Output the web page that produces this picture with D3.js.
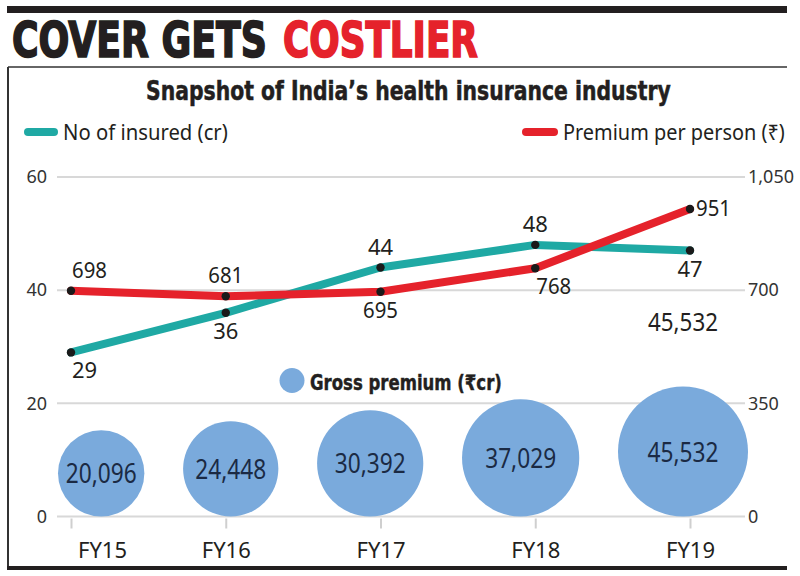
<!DOCTYPE html>
<html><head><meta charset="utf-8">
<script src="https://cdn.jsdelivr.net/npm/d3@7"></script>
<style>body{margin:0;background:#fff}svg{display:block}</style>
</head><body><svg id="c" width="800" height="576"></svg>
<script>
// ---- data ----
const categories = ["FY15", "FY16", "FY17", "FY18", "FY19"];
const insured = [29, 36, 44, 48, 47];                 // No of insured (cr)
const premiumPerPerson = [698, 681, 695, 768, 951];   // Premium per person (₹)
const grossPremium = [20096, 24448, 30392, 37029, 45532]; // Gross premium (₹cr)
const leftTicks = [0, 20, 40, 60];
const rightTicks = [0, 350, 700, 1050];
const insuredLabelPos = ["below-start", "below", "above", "above", "below"];
const premiumLabelPos = ["above-start", "above", "below", "below-start", "right"];
const titleDark = "COVER GETS";
const titleRed = "COSTLIER";
const subtitle = "Snapshot of India’s health insurance industry";
const legendInsured = "No of insured (cr)";
const legendPremium = "Premium per person (₹)";
const legendGross = "Gross premium (₹cr)";
const strayLabel = "45,532";

// ---- styles ----
const TEAL = "#1fa9a4", RED = "#e5222b", BLUE = "#7aaadc", INK = "#231f20";
const NUMFONT = "'Noto Sans', 'Open Sans', sans-serif";
const HEAVY = "'DejaVu Sans Condensed', 'DejaVu Sans', sans-serif";

const svg = d3.select("#c");

// horizontally squeeze a text to a given width around its anchor x
function squeeze(sel, width) {
  sel.each(function () {
    const n = this, w = n.getComputedTextLength();
    const k = Math.min(1, width / w);
    const ax = +n.getAttribute("x");
    n.setAttribute("transform", `translate(${ax},0) scale(${k},1) translate(${-ax},0)`);
  });
  return sel;
}

// ---- scales ----
const y0 = 516.5, yTop = 177;
const yL = d3.scaleLinear().domain([0, 60]).range([y0, yTop]);
const yR = d3.scaleLinear().domain([0, 1050]).range([y0, yTop]);
const x = d3.scalePoint().domain(categories).range([71, 690]);
const r = d3.scaleSqrt().domain([0, d3.max(grossPremium)]).range([0, 65]);

// ---- header ----
svg.append("rect").attr("x", 7).attr("y", 6).attr("width", 780).attr("height", 7).attr("fill", INK);
squeeze(svg.append("text").attr("x", 12).attr("y", 57).text(titleDark)
  .attr("font-family", HEAVY).attr("font-weight", 700).attr("font-size", 49)
  .attr("fill", INK).attr("stroke", INK).attr("stroke-width", 1.6), 255);
squeeze(svg.append("text").attr("x", 283).attr("y", 57).text(titleRed)
  .attr("font-family", HEAVY).attr("font-weight", 700).attr("font-size", 49)
  .attr("fill", RED).attr("stroke", RED).attr("stroke-width", 1.6), 195);

// frame
svg.append("line").attr("x1", 8).attr("x2", 787).attr("y1", 67).attr("y2", 67).attr("stroke", "#333").attr("stroke-width", 1.5);
svg.append("line").attr("x1", 8).attr("x2", 8).attr("y1", 67).attr("y2", 568).attr("stroke", "#333").attr("stroke-width", 2);
svg.append("line").attr("x1", 7).attr("x2", 787).attr("y1", 568).attr("y2", 568).attr("stroke", INK).attr("stroke-width", 4);

squeeze(svg.append("text").attr("x", 146).attr("y", 100).text(subtitle)
  .attr("font-family", HEAVY).attr("font-weight", 700).attr("font-size", 26)
  .attr("fill", INK).attr("stroke", INK).attr("stroke-width", 0.5), 525);

// ---- legend ----
const lg = svg.append("g");
lg.append("line").attr("x1", 28).attr("x2", 54).attr("y1", 132).attr("y2", 132)
  .attr("stroke", TEAL).attr("stroke-width", 8).attr("stroke-linecap", "round");
lg.append("text").attr("x", 63).attr("y", 140).text(legendInsured)
  .attr("font-family", NUMFONT).attr("font-size", 21).attr("fill", INK)
  .call(s => squeeze(s, 165));
lg.append("line").attr("x1", 526).attr("x2", 554).attr("y1", 132).attr("y2", 132)
  .attr("stroke", RED).attr("stroke-width", 8).attr("stroke-linecap", "round");
lg.append("text").attr("x", 563).attr("y", 140).text(legendPremium)
  .attr("font-family", NUMFONT).attr("font-size", 21).attr("fill", INK)
  .call(s => squeeze(s, 222));

// ---- gridlines ----
svg.append("g").selectAll("line").data(leftTicks).join("line")
  .attr("x1", 57).attr("x2", 745)
  .attr("y1", d => yL(d)).attr("y2", d => yL(d))
  .attr("stroke", "#d8d8d8").attr("stroke-width", 2);

// ---- axes ----
const axL = svg.append("g").attr("transform", "translate(47,0)")
  .call(d3.axisLeft(yL).tickValues(leftTicks).tickSize(0).tickPadding(0));
const axR = svg.append("g").attr("transform", "translate(748,0)")
  .call(d3.axisRight(yR).tickValues(rightTicks).tickFormat(d3.format(",")).tickSize(0).tickPadding(0));
[axL, axR].forEach(a => {
  a.select(".domain").remove();
  a.selectAll("text").attr("font-family", NUMFONT).attr("font-size", 18).attr("fill", "#333");
});
const axB = svg.append("g").attr("transform", `translate(0,${y0 + 2})`)
  .call(d3.axisBottom(x).tickSize(10).tickPadding(14));
axB.select(".domain").remove();
axB.selectAll("line").attr("stroke", "#cfcfcf").attr("stroke-width", 2);
axB.selectAll("text").attr("font-family", NUMFONT).attr("font-size", 22).attr("fill", INK)
  .attr("dx", (d, i) => i === 0 ? 31 : 0);

// ---- bubbles (packed left to right with equal gaps, resting on the baseline) ----
const radii = grossPremium.map(v => r(v));
const leftEdge = 58, rightEdge = 748;
const gap = (rightEdge - leftEdge - 2 * d3.sum(radii)) / (radii.length - 1);
const cxs = [];
radii.forEach((rr, i) => {
  cxs.push(i === 0 ? leftEdge + rr : cxs[i - 1] + radii[i - 1] + gap + rr);
});
const bubbles = svg.append("g").selectAll("g").data(grossPremium).join("g");
bubbles.append("circle")
  .attr("cx", (d, i) => cxs[i]).attr("cy", (d, i) => y0 - radii[i]).attr("r", (d, i) => radii[i])
  .attr("fill", BLUE);
bubbles.append("text")
  .attr("x", (d, i) => cxs[i]).attr("y", (d, i) => y0 - radii[i]).attr("dy", "0.36em")
  .attr("text-anchor", "middle").text(d => d3.format(",")(d))
  .attr("font-family", NUMFONT).attr("font-size", 28).attr("fill", "#1b2a44")
  .call(s => squeeze(s, 71));

// stray label above last bubble
const last = grossPremium.length - 1;
svg.append("text").attr("x", cxs[last]).attr("y", y0 - 2 * radii[last] - 55)
  .attr("text-anchor", "middle").text(strayLabel)
  .attr("font-family", NUMFONT).attr("font-size", 26).attr("fill", INK)
  .call(s => squeeze(s, 70));

// bubble legend
svg.append("circle").attr("cx", 292).attr("cy", 380.5).attr("r", 12.5).attr("fill", BLUE);
squeeze(svg.append("text").attr("x", 310).attr("y", 390).text(legendGross)
  .attr("font-family", HEAVY).attr("font-weight", 700).attr("font-size", 21).attr("fill", INK)
  .attr("stroke", INK).attr("stroke-width", 0.4), 192);

// ---- lines ----
const lineIns = d3.line().x((d, i) => x(categories[i])).y(d => yL(d));
const linePrem = d3.line().x((d, i) => x(categories[i])).y(d => yR(d));
svg.append("path").datum(insured).attr("d", lineIns).attr("fill", "none")
  .attr("stroke", TEAL).attr("stroke-width", 8).attr("stroke-linejoin", "round").attr("stroke-linecap", "round");
svg.append("path").datum(premiumPerPerson).attr("d", linePrem).attr("fill", "none")
  .attr("stroke", RED).attr("stroke-width", 8).attr("stroke-linejoin", "round").attr("stroke-linecap", "round");

function dots(data, scale) {
  svg.append("g").selectAll("circle").data(data).join("circle")
    .attr("cx", (d, i) => x(categories[i])).attr("cy", d => scale(d)).attr("r", 4.2).attr("fill", "#1a1a1a");
}
dots(insured, yL);
dots(premiumPerPerson, yR);

function labels(data, scale, pos) {
  svg.append("g").selectAll("text").data(data).join("text")
    .attr("x", (d, i) => {
      const p = pos[i], cx = x(categories[i]);
      if (p === "right") return cx + 6;
      if (p.endsWith("start")) return cx + 1;
      return cx;
    })
    .attr("y", (d, i) => {
      const p = pos[i], cy = scale(d);
      if (p === "right") return cy + 7;
      if (p.startsWith("above")) return cy - 13;
      return cy + 26;
    })
    .attr("text-anchor", (d, i) => (pos[i] === "right" || pos[i].endsWith("start")) ? "start" : "middle")
    .text(d => d)
    .attr("font-family", NUMFONT).attr("font-size", 22).attr("fill", INK)
    .call(s => squeeze(s, 35));
}
labels(insured, yL, insuredLabelPos);
labels(premiumPerPerson, yR, premiumLabelPos);
</script></body></html>
